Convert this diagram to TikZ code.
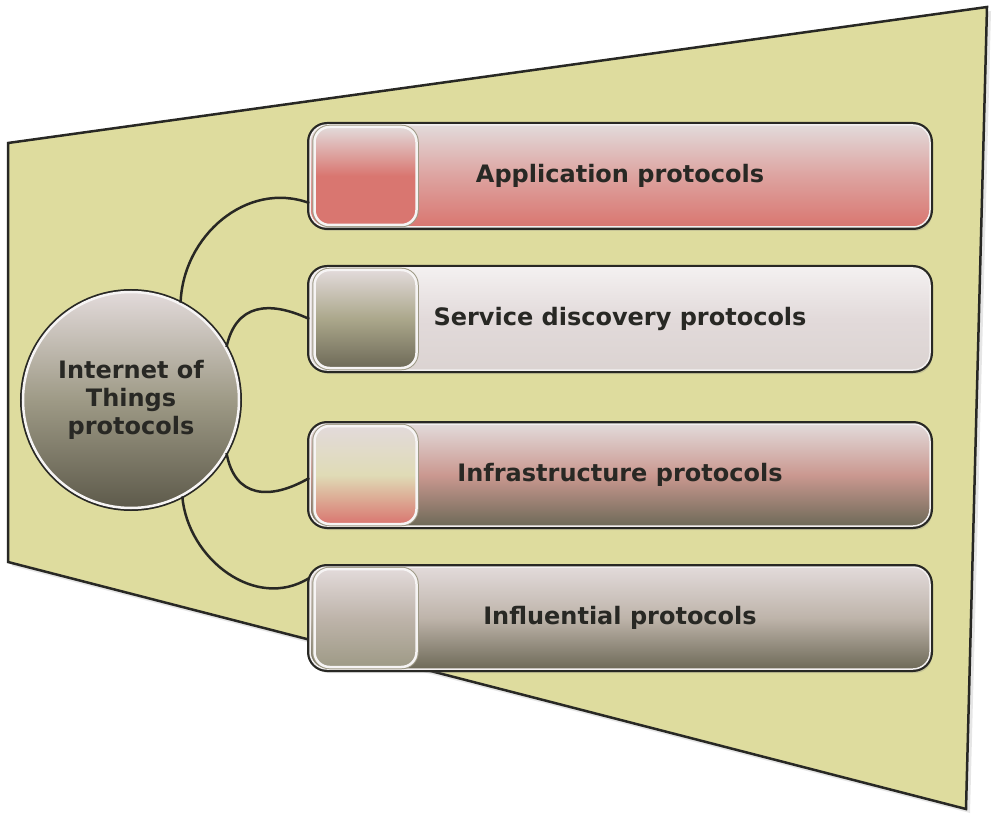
\documentclass[tikz,border=0pt]{standalone}
\usepackage{fontspec}
\setmainfont{DejaVu Sans}
\usetikzlibrary{positioning,shadows}
\definecolor{khaki}{RGB}{222,220,158}
\definecolor{pale}{RGB}{226,218,218}
\definecolor{salmon}{RGB}{217,118,112}
\definecolor{olive}{RGB}{110,106,88}
\definecolor{stone}{RGB}{158,154,134}
\definecolor{taupe}{RGB}{190,180,170}
\definecolor{ink}{RGB}{40,40,36}

\begin{document}
\begin{tikzpicture}[x=1pt,y=1pt,every text node part/.style={align=center},
    txt/.style={font=\fontsize{24}{28}\selectfont\bfseries,text=ink},
    bar/.style={rounded corners=17pt,minimum width=620pt,minimum height=102pt,txt,
      drop shadow={opacity=.25,shadow xshift=2pt,shadow yshift=-4pt},
      preaction={draw=ink,line width=6pt},draw=white!60!pale,line width=1.5pt},
    tab/.style={rounded corners=15pt,minimum width=102pt,minimum height=98pt,
      preaction={draw=stone,line width=4.5pt},draw=white!70!pale,line width=2.5pt},
    hub/.style={circle,minimum size=216pt,txt,
      preaction={draw=ink,line width=6pt},draw=white!70!pale,line width=2.5pt},
    link/.style={draw=ink,line width=2.5pt}]
    \useasboundingbox (0,0) rectangle (1000,823);

    \draw[fill=khaki,draw=ink,line width=2.5pt,
      drop shadow={opacity=.2,shadow xshift=4pt,shadow yshift=-4pt}]
      (8,680) -- (987,816) -- (966,14) -- (8,261) -- cycle;

    \node[bar,top color=pale,bottom color=salmon,middle color=pale!45!salmon] (app) at (620,647) {Application protocols};
    \node[bar,top color=white!60!pale,bottom color=pale!90!stone,middle color=pale] (sd) at (620,504) {Service discovery protocols};
    \node[bar,top color=pale,bottom color=olive,middle color=salmon!45!taupe] (infra) at (620,348) {Infrastructure protocols};
    \node[bar,top color=pale,bottom color=olive,middle color=taupe] (infl) at (620,205) {Influential protocols};

    \node[tab,anchor=west,top color=pale,bottom color=salmon,middle color=salmon] (apptab) at ([xshift=4pt]app.west) {};
    \node[tab,anchor=west,top color=pale,bottom color=olive,middle color=stone!80!khaki] (sdtab) at ([xshift=4pt]sd.west) {};
    \node[tab,anchor=west,top color=pale,bottom color=salmon,middle color=khaki!60!pale] (infratab) at ([xshift=4pt]infra.west) {};
    \node[tab,anchor=west,top color=pale,bottom color=stone,middle color=taupe] (infltab) at ([xshift=4pt]infl.west) {};

    \node[hub,top color=pale,bottom color=olive!85!black,middle color=stone] (iot) at (131,423) {Internet of\\Things\\protocols};

    \draw[link] (iot.63) to[out=88,in=160,looseness=1.05] ([yshift=-27pt]app.west);
    \draw[link] (iot.29) to[out=78,in=155,looseness=1.3] (sd.west);
    \draw[link] (iot.-29) to[out=-80,in=210,looseness=1.35] ([yshift=-3pt]infra.west);
    \draw[link] (iot.-62) to[out=-85,in=212,looseness=1.07] ([yshift=40pt]infl.west);
  \end{tikzpicture}
\end{document}
